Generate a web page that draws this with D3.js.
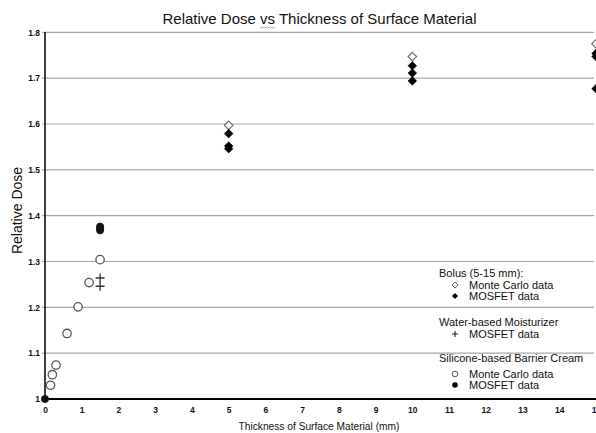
<!DOCTYPE html>
<html><head><meta charset="utf-8">
<script src="https://cdn.jsdelivr.net/npm/d3@7"></script>
<style>body{margin:0;background:#fff}svg{display:block;font-family:"Liberation Sans",Arial,sans-serif}</style>
</head><body>
<svg id="c" width="596" height="433"></svg>
<script>
// ---- data ----
const xTicks = [0,1,2,3,4,5,6,7,8,9,10,11,12,13,14,15];
const yTicks = [1.0,1.1,1.2,1.3,1.4,1.5,1.6,1.7,1.8];
// Bolus (5-15 mm)
const bolusMC_x = [5, 10, 15];
const bolusMC_y = [1.597, 1.747, 1.775];
const bolusMOS_x = [5, 5, 5, 10, 10, 10, 15, 15, 15];
const bolusMOS_y = [1.579, 1.552, 1.546, 1.727, 1.711, 1.694, 1.754, 1.747, 1.677];
// Water-based Moisturizer
const waterMOS_x = [1.5, 1.5];
const waterMOS_y = [1.264, 1.246];
// Silicone-based Barrier Cream
const siliMC_x = [0.15, 0.2, 0.3, 0.6, 0.9, 1.2, 1.5];
const siliMC_y = [1.030, 1.053, 1.074, 1.143, 1.201, 1.254, 1.304];
const siliMOS_x = [0, 1.5, 1.5, 1.5];
const siliMOS_y = [1.0, 1.376, 1.372, 1.368];

const svg = d3.select("#c");
const x = d3.scaleLinear().domain([0,15]).range([45,596]);
const y = d3.scaleLinear().domain([1.0,1.8]).range([399,32.3]);

// gridlines
svg.append("g").selectAll("line").data(yTicks.filter(d=>d>1.0001)).join("line")
  .attr("x1",42).attr("x2",594).attr("y1",d=>y(d)).attr("y2",d=>y(d))
  .attr("stroke","#a6a6a6").attr("stroke-width",1.2);

// y axis labels
const yAxis = d3.axisLeft(y).tickValues(yTicks).tickSize(0).tickPadding(5)
  .tickFormat(d=> Math.abs(d-1)<1e-9 ? "1" : d3.format(".1f")(d));
const gy = svg.append("g").attr("transform","translate(45,0)").call(yAxis);
gy.select(".domain").remove();
gy.selectAll("text").attr("font-size",8.5).attr("font-weight","bold").attr("fill","#111")
  .attr("font-family","'Liberation Sans',Arial,sans-serif");

const xAxis = d3.axisBottom(x).tickValues(xTicks).tickSize(0).tickPadding(8).tickFormat(d3.format("d"));
const gx = svg.append("g").attr("transform","translate(0,399)").call(xAxis);
gx.select(".domain").remove();
gx.selectAll("text").attr("font-size",8.5).attr("font-weight","bold").attr("fill","#111")
  .attr("font-family","'Liberation Sans',Arial,sans-serif");

// axes lines
svg.append("line").attr("x1",45).attr("x2",45).attr("y1",32).attr("y2",399.5)
  .attr("stroke","#000").attr("stroke-width",1.5);
svg.append("line").attr("x1",44).attr("x2",596).attr("y1",y(1.0)).attr("y2",y(1.0))
  .attr("stroke","#000").attr("stroke-width",2.2);

// markers
const diamond = d3.symbol().type(d3.symbolDiamond2 || d3.symbolSquare);
function diamondPath(s){ return `M0,${-s}L${s},0L0,${s}L${-s},0Z`; }
function plusPath(s){ return `M${-s},0H${s}M0,${-s}V${s}`; }

function pts(xs, ys){ return xs.map((v,i)=>({x:v,y:ys[i]})); }

const gp = svg.append("g");
// silicone MC open circles
gp.selectAll(".smc").data(pts(siliMC_x,siliMC_y)).join("circle")
  .attr("cx",d=>x(d.x)).attr("cy",d=>y(d.y)).attr("r",4.2)
  .attr("fill","#fff").attr("stroke","#555").attr("stroke-width",1.3);
// silicone MOSFET filled circles
gp.selectAll(".smo").data(pts(siliMOS_x,siliMOS_y)).join("circle")
  .attr("cx",d=>x(d.x)).attr("cy",d=>y(d.y)).attr("r",3.6)
  .attr("fill","#111").attr("stroke","#111").attr("stroke-width",0.8);
// water MOSFET plus
gp.selectAll(".wmo").data(pts(waterMOS_x,waterMOS_y)).join("path")
  .attr("transform",d=>`translate(${x(d.x)},${y(d.y)})`).attr("d",plusPath(4.5))
  .attr("fill","none").attr("stroke","#333").attr("stroke-width",1.3);
// bolus MC open diamonds
gp.selectAll(".bmc").data(pts(bolusMC_x,bolusMC_y)).join("path")
  .attr("transform",d=>`translate(${x(d.x)},${y(d.y)})`).attr("d",diamondPath(4.3))
  .attr("fill","#fff").attr("stroke","#666").attr("stroke-width",1.1);
// bolus MOSFET filled diamonds
gp.selectAll(".bmo").data(pts(bolusMOS_x,bolusMOS_y)).join("path")
  .attr("transform",d=>`translate(${x(d.x)},${y(d.y)})`).attr("d",diamondPath(4.3))
  .attr("fill","#000").attr("stroke","#000").attr("stroke-width",0.6);

// title
const title = svg.append("text").attr("x",319.5).attr("y",23.5).attr("text-anchor","middle")
  .attr("font-size",15).attr("fill","#111");
title.append("tspan").text("Relative Dose ");
title.append("tspan").attr("id","vs").text("vs");
title.append("tspan").text(" Thickness of Surface Material");
// spell-check squiggle under "vs"
try {
  const tn = title.node();
  const full = "Relative Dose vs Thickness of Surface Material";
  const i0 = full.indexOf("vs");
  const sx = tn.getStartPositionOfChar(i0).x, ex = tn.getEndPositionOfChar(i0+1).x;
  let dstr = `M${sx},27`;
  for (let p = sx, k=0; p < ex; p += 1.5, k++) dstr += `L${p+1.5},${k%2?27:28.3}`;
  svg.append("path").attr("d",dstr).attr("fill","none").attr("stroke","#999").attr("stroke-width",0.8);
} catch(e) {}

// axis titles
svg.append("text").attr("x",319).attr("y",429.5).attr("text-anchor","middle")
  .attr("font-size",10.2).attr("fill","#111").text("Thickness of Surface Material (mm)");
svg.append("text").attr("transform","translate(22,210.5) rotate(-90)").attr("text-anchor","middle")
  .attr("font-size",14).attr("fill","#111").text("Relative Dose");

// legend
const lg = svg.append("g").attr("font-size",11).attr("fill","#111");
const headers = [["Bolus (5-15 mm):",273],["Water-based Moisturizer",321.7],["Silicone-based Barrier Cream",357.7]];
lg.selectAll(".h").data(headers).join("text").attr("x",439).attr("y",d=>d[1]+4).text(d=>d[0]);
const items = [
  {t:"Monte Carlo data", y:285, m:"od"},
  {t:"MOSFET data", y:296, m:"fd"},
  {t:"MOSFET data", y:334, m:"p"},
  {t:"Monte Carlo data", y:374, m:"oc"},
  {t:"MOSFET data", y:385, m:"fc"}
];
lg.selectAll(".i").data(items).join("text").attr("x",469).attr("y",d=>d.y+4).text(d=>d.t);
items.forEach(d=>{
  const g = lg.append("g").attr("transform",`translate(455,${d.y})`);
  if (d.m==="od") g.append("path").attr("d",diamondPath(3)).attr("fill","#fff").attr("stroke","#666").attr("stroke-width",1);
  if (d.m==="fd") g.append("path").attr("d",diamondPath(3)).attr("fill","#000");
  if (d.m==="p") g.append("path").attr("d",plusPath(3)).attr("stroke","#222").attr("stroke-width",1.1);
  if (d.m==="oc") g.append("circle").attr("r",2.8).attr("fill","#fff").attr("stroke","#555").attr("stroke-width",1);
  if (d.m==="fc") g.append("circle").attr("r",2.8).attr("fill","#000");
});
</script>
</body></html>
